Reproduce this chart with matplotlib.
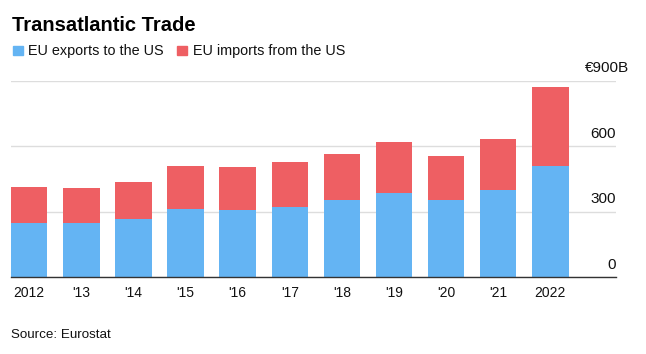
import matplotlib
matplotlib.use("Agg")
import matplotlib.pyplot as plt
import matplotlib.transforms as mtransforms
from matplotlib.patches import Rectangle

plt.rcParams['font.family'] = ['Liberation Sans', 'DejaVu Sans']

years = ['2012', "'13", "'14", "'15", "'16", "'17", "'18", "'19", "'20", "'21", '2022']
exports = [248, 247, 267, 312, 309, 324, 352, 385, 353, 400, 510]
totals = [415, 411, 434, 509, 504, 528, 566, 620, 556, 633, 869]
imports = [t - e for t, e in zip(totals, exports)]
y_ticks = [0, 300, 600, 900]
y_labels = ['0', '300', '600', '€900B']

BLUE = '#64B4F3'
RED = '#EE5F63'

fig = plt.figure(figsize=(6.46, 3.54), dpi=100)
ax = fig.add_axes([11/646, 76.7/354, 605/646, 196.6/354])

x = list(range(len(years)))
ax.bar(x, exports, width=0.7, color=BLUE, zorder=2)
ax.bar(x, imports, bottom=exports, width=0.7, color=RED, zorder=2)

ax.set_xlim(-0.35, 11.26)
ax.set_ylim(0, 900)
ax.set_yticks(y_ticks)
ax.set_yticklabels([])
ax.tick_params(axis='y', length=0)
ax.grid(axis='y', color='#dddddd', linewidth=1, zorder=0)
ax.set_xticks(x)
ax.set_xticklabels(years, fontsize=10, color='#111111')
ax.tick_params(axis='x', length=0, pad=6)
for s in ['top', 'right', 'left']:
    ax.spines[s].set_visible(False)
ax.spines['bottom'].set_color('#333333')
ax.spines['bottom'].set_linewidth(1)
ax.spines['bottom'].set_zorder(3)

trans = mtransforms.blended_transform_factory(ax.transAxes, ax.transData)
for v, lab in zip(y_ticks, y_labels):
    t = mtransforms.offset_copy(trans, fig=fig, x=(0 if lab != '€900B' else 9.5), y=6, units='points')
    ax.text(1.0, v, lab, transform=t, ha='right', va='baseline', fontsize=11, color='#111111')

fig.text(12/646, 1 - 31/354, 'Transatlantic Trade', fontsize=14.5, fontweight='bold', color='#000000', va='baseline')

# legend
fig.patches.append(Rectangle((13/646, 1 - 55/354), 9.5/646, 9.5/354, transform=fig.transFigure, color=BLUE, figure=fig))
fig.text(28/646, 1 - 55/354, 'EU exports to the US', fontsize=10.4, va='baseline', color='#111111')
fig.patches.append(Rectangle((177/646, 1 - 55/354), 9.5/646, 9.5/354, transform=fig.transFigure, color=RED, figure=fig))
fig.text(193/646, 1 - 55/354, 'EU imports from the US', fontsize=10.4, va='baseline', color='#111111')

fig.text(11/646, 1 - 338/354, 'Source: Eurostat', fontsize=9.6, va='baseline', color='#111111')

fig.savefig('out.png', dpi=100)
